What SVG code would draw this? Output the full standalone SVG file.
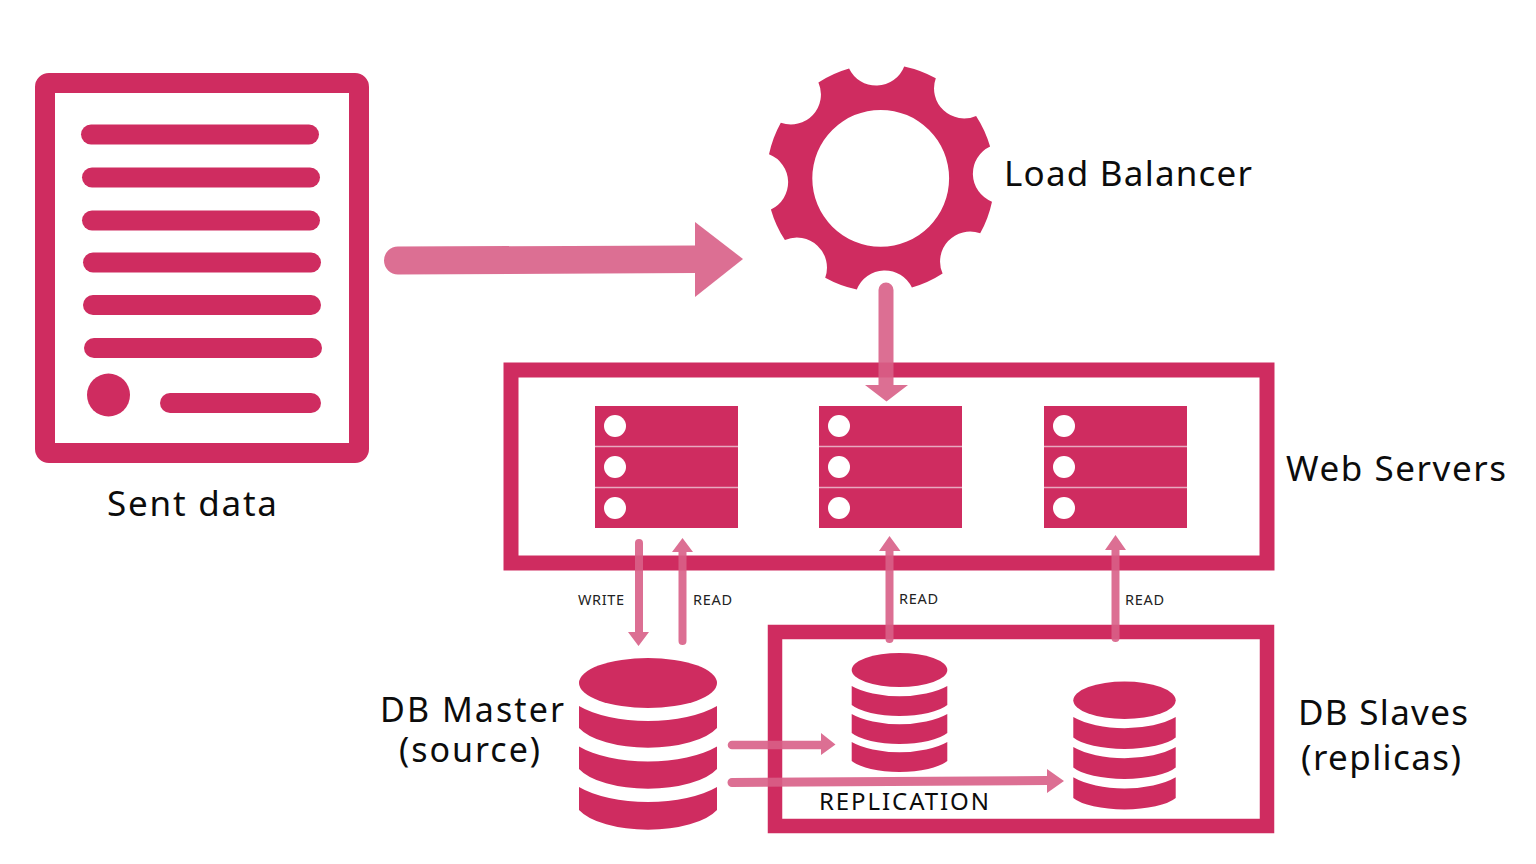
<svg xmlns="http://www.w3.org/2000/svg" width="1536" height="864" viewBox="0 0 1536 864">
<style>
.f{fill:#cf2c60}
.o{fill:none;stroke:#cf2c60}
.doc{fill:none;stroke:#cf2c60;stroke-width:20;stroke-linecap:round}
.div{stroke:#e8a9bf;stroke-width:1.5}
.dot{fill:#fff}
.a{fill:#d85f87;fill-opacity:.9}
text{font-family:"Noto Sans","Liberation Sans",sans-serif;fill:#0c0c0c}
.l{font-size:35px}
.s{font-size:14.5px;fill:#222}
</style>
<defs>
<g id="srv">
<rect class="f" x="0" y="0" width="143" height="122"/>
<line class="div" x1="0" y1="40.5" x2="143" y2="40.5"/>
<line class="div" x1="0" y1="81.5" x2="143" y2="81.5"/>
<circle class="dot" cx="20" cy="20" r="11"/>
<circle class="dot" cx="20" cy="61" r="11"/>
<circle class="dot" cx="20" cy="102" r="11"/>
</g>
</defs>
<rect width="1536" height="864" fill="#fff"/>

<g id="sent-data">
<rect class="o" x="45" y="83" width="314" height="370" rx="4" stroke-width="20"/>
<line class="doc" x1="91" y1="134.5" x2="309" y2="134.5"/>
<line class="doc" x1="92" y1="177.5" x2="310" y2="177.5"/>
<line class="doc" x1="92" y1="220.5" x2="310" y2="220.5"/>
<line class="doc" x1="93" y1="262.5" x2="311" y2="262.5"/>
<line class="doc" x1="93" y1="305" x2="311" y2="305"/>
<line class="doc" x1="94" y1="348" x2="312" y2="348"/>
<circle class="f" cx="108.5" cy="395" r="21.5"/>
<line class="doc" x1="170" y1="403" x2="311" y2="403"/>
<text class="l" x="107" y="516" textLength="170">Sent data</text>
</g>

<g id="load-balancer">
<path class="f" fill-rule="evenodd" d="M849.1 68.4A30 30 0 0 0 904.2 66.5A114 114 0 0 1 935.8 78.3A30 30 0 0 0 976.1 115.9A114 114 0 0 1 990.1 146.6A30 30 0 0 0 992 201.7A114 114 0 0 1 980.2 233.3A30 30 0 0 0 942.6 273.6A114 114 0 0 1 911.9 287.6A30 30 0 0 0 856.8 289.5A114 114 0 0 1 825.2 277.7A30 30 0 0 0 784.9 240.1A114 114 0 0 1 770.9 209.4A30 30 0 0 0 769 154.3A114 114 0 0 1 780.8 122.7A30 30 0 0 0 818.4 82.4A114 114 0 0 1 849.1 68.4ZM949.1 178.3A68.4 68.4 0 1 0 812.3 178.3A68.4 68.4 0 1 0 949.1 178.3Z"/>
<text class="l" x="1004" y="185.500" textLength="248">Load Balancer</text>
</g>

<g id="web-servers">
<rect class="o" x="511" y="370" width="756" height="193" stroke-width="15"/>
<use href="#srv" x="595" y="406"/>
<use href="#srv" x="819" y="406"/>
<use href="#srv" x="1044" y="406"/>
<text class="l" x="1286" y="480.500" textLength="220">Web Servers</text>
</g>

<g id="db-slaves">
<rect class="o" x="775" y="632" width="492" height="194" stroke-width="14.500"/>
<g class="f">
<ellipse cx="899.500" cy="670" rx="47.800" ry="17"/>
<path d="M851.700 686A60 26 0 0 0 947.300 686V705A52 18 0 0 1 851.700 705Z"/>
<path d="M851.700 714A60 26 0 0 0 947.300 714V733A52 18 0 0 1 851.700 733Z"/>
<path d="M851.700 742A60 26 0 0 0 947.300 742V761A52 18 0 0 1 851.700 761Z"/>
</g>
<g class="f">
<ellipse cx="1124.500" cy="700.300" rx="51.200" ry="18.700"/>
<path d="M1073.300 717A64 28 0 0 0 1175.700 717V737.500A55 18 0 0 1 1073.300 737.500Z"/>
<path d="M1073.300 747A64 28 0 0 0 1175.700 747V767.500A55 18 0 0 1 1073.300 767.500Z"/>
<path d="M1073.300 777.300A64 28 0 0 0 1175.700 777.300V798A55 18 0 0 1 1073.300 798Z"/>
</g>
<text class="l" x="1298" y="725" textLength="170">DB Slaves</text>
<text class="l" x="1301" y="770" textLength="160">(replicas)</text>
</g>

<g id="db-master">
<g class="f">
<ellipse cx="648" cy="683" rx="69" ry="25"/>
<path d="M579 706A85 36 0 0 0 717 706V728A74 31 0 0 1 579 728Z"/>
<path d="M579 746.500A85 36 0 0 0 717 746.500V769A74 31 0 0 1 579 769Z"/>
<path d="M579 787A85 36 0 0 0 717 787V810A74 31 0 0 1 579 810Z"/>
</g>
<text class="l" x="380" y="722" textLength="184" style="font-size:34px">DB Master</text>
<text class="l" x="399" y="762" textLength="141" style="font-size:34px">(source)</text>
</g>

<g id="connectors">
<path class="a" d="M398 246.500L695 245.500V273L398 274.500A14 14 0 0 1 398 246.500Z"/>
<path class="a" d="M695 222L743 259L695 297Z"/>
<path class="a" d="M878.500 290A7.500 7.500 0 0 1 893.500 290V385H908L886.500 401.500L865 385H878.500Z"/>
<path class="a" d="M635 543A4 4 0 0 1 643 543V632H649L638.500 646L628 632H635Z"/>
<path class="a" d="M686.500 641A4 4 0 0 1 678.500 641V552H672L682.500 538L693 552H686.500Z"/>
<path class="a" d="M893.500 639A4 4 0 0 1 885.500 639V551H879L889.500 536L900.500 551H893.500Z"/>
<path class="a" d="M1119.500 638A4 4 0 0 1 1111.500 638V550H1105L1115.500 535L1126 550H1119.500Z"/>
<path class="a" d="M732 740.700H821V733L835.500 744.500L821 755V749.300H732A4.300 4.300 0 0 1 732 740.700Z"/>
<path class="a" d="M732 778L1047 776V769L1064 781L1047 793V785L732 787A4.500 4.500 0 0 1 732 778Z"/>
<text class="s" x="578" y="605" textLength="46">WRITE</text>
<text class="s" x="693" y="605" textLength="39">READ</text>
<text class="s" x="899" y="604" textLength="39">READ</text>
<text class="s" x="1125" y="605" textLength="39">READ</text>
<text x="819" y="810" font-size="24" textLength="170">REPLICATION</text>
</g>
</svg>
